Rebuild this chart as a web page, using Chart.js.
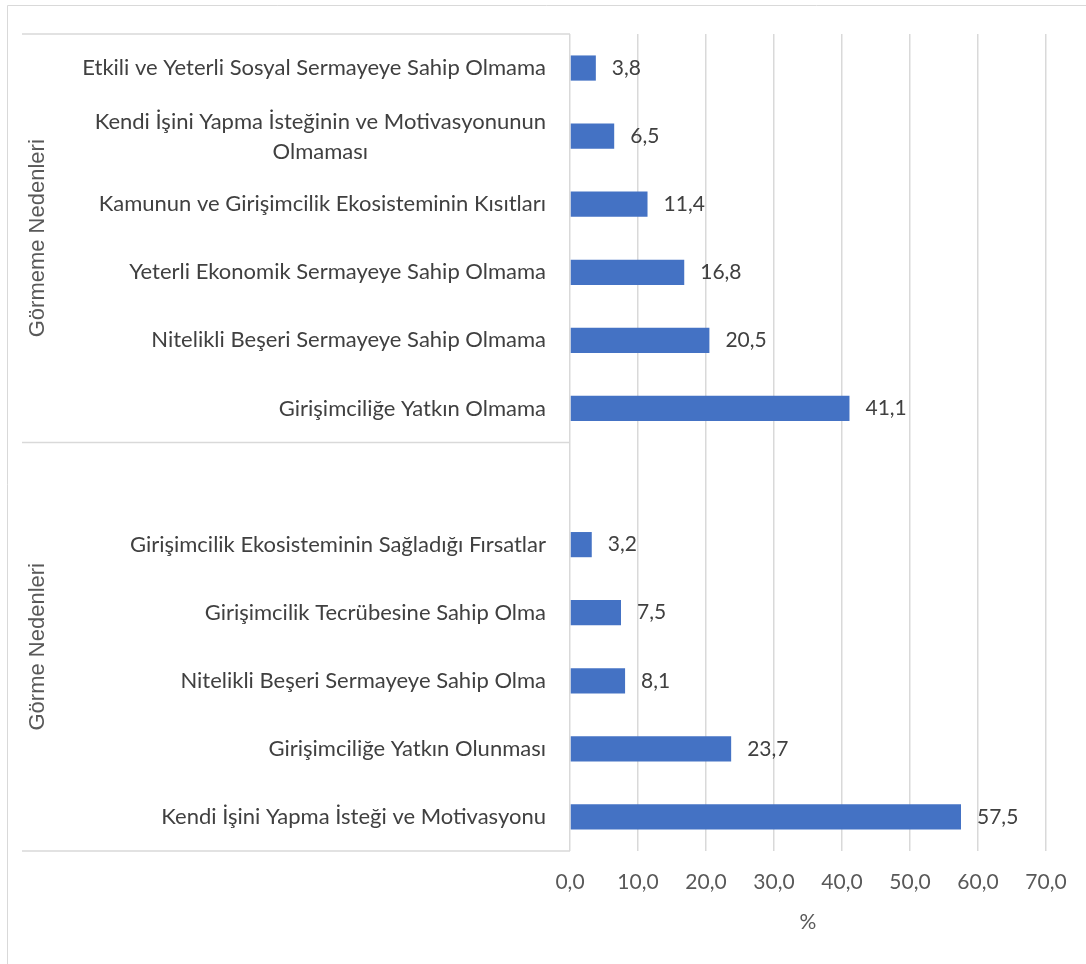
<!DOCTYPE html>
<html>
<head>
<meta charset="utf-8">
<script src="https://cdn.jsdelivr.net/npm/chart.js@4.4.1/dist/chart.umd.min.js"></script>
<style>
  html, body { margin: 0; padding: 0; background: #fff; }
  #wrap { width: 1086px; height: 964px; position: relative; }
</style>
</head>
<body>
<div id="wrap"><canvas id="chart"></canvas></div>
<script>
// data, top to bottom
var categories = [
  "Etkili ve Yeterli Sosyal Sermayeye Sahip Olmama",
  ["Kendi İşini Yapma İsteğinin ve Motivasyonunun", "Olmaması"],
  "Kamunun ve Girişimcilik Ekosisteminin Kısıtları",
  "Yeterli Ekonomik Sermayeye Sahip Olmama",
  "Nitelikli Beşeri Sermayeye Sahip Olmama",
  "Girişimciliğe Yatkın Olmama",
  "",
  "Girişimcilik Ekosisteminin Sağladığı Fırsatlar",
  "Girişimcilik Tecrübesine Sahip Olma",
  "Nitelikli Beşeri Sermayeye Sahip Olma",
  "Girişimciliğe Yatkın Olunması",
  "Kendi İşini Yapma İsteği ve Motivasyonu"
];
var values = [3.8, 6.5, 11.4, 16.8, 20.5, 41.1, null, 3.2, 7.5, 8.1, 23.7, 57.5];
var groups = ["Görmeme Nedenleri", "Görme Nedenleri"];
var groupSizes = [6, 6];
var xTicks = [0, 10, 20, 30, 40, 50, 60, 70];
var axisTitle = "%";

var LINE = "#d9d9d9";
var FONT = "Lato";

function fmt(v) {
  return v.toFixed(1).replace(".", ",");
}

// group boxes, rotated group names, category labels, value labels
var sidePlugin = {
  id: "side",
  beforeDraw: function (chart) {
    var ctx = chart.ctx;
    ctx.save();
    ctx.strokeStyle = LINE;
    ctx.lineWidth = 1;
    ctx.beginPath();
    ctx.moveTo(7.5, chart.height);
    ctx.lineTo(7.5, 5.5);
    ctx.lineTo(chart.width, 5.5);
    ctx.stroke();
    ctx.restore();
  },
  afterDraw: function (chart) {
    var ctx = chart.ctx;
    var xs = chart.scales.x;
    var ys = chart.scales.y;
    var area = chart.chartArea;
    ctx.save();

    // group separators
    var edges = [area.top];
    var idx = 0;
    groupSizes.forEach(function (n) {
      idx += n;
      if (idx >= categories.length) edges.push(area.bottom);
      else edges.push((ys.getPixelForValue(idx - 1) + ys.getPixelForValue(idx)) / 2);
    });
    ctx.strokeStyle = LINE;
    ctx.lineWidth = 1.5;
    edges.forEach(function (e) {
      ctx.beginPath();
      ctx.moveTo(22, e);
      ctx.lineTo(area.left, e);
      ctx.stroke();
    });

    // group names
    ctx.fillStyle = "#595959";
    ctx.font = '22px "Liberation Sans"';
    ctx.textAlign = "center";
    ctx.textBaseline = "middle";
    groups.forEach(function (g, i) {
      var mid = (edges[i] + edges[i + 1]) / 2;
      ctx.save();
      ctx.translate(38, mid);
      ctx.rotate(-Math.PI / 2);
      ctx.fillText(g, 0, 0);
      ctx.restore();
    });

    // category labels
    ctx.fillStyle = "#404040";
    ctx.font = "22px " + FONT;
    var rightX = area.left - 24;
    categories.forEach(function (c, i) {
      var cy = ys.getPixelForValue(i);
      if (Array.isArray(c)) {
        var w = 0;
        c.forEach(function (l) { w = Math.max(w, ctx.measureText(l).width); });
        ctx.textAlign = "center";
        c.forEach(function (l, k) {
          ctx.fillText(l, rightX - w / 2, cy + 1 + (k - (c.length - 1) / 2) * 30);
        });
      } else if (c) {
        ctx.textAlign = "right";
        ctx.fillText(c, rightX, cy);
      }
    });

    // value labels
    ctx.font = "21px " + FONT;
    ctx.textAlign = "left";
    values.forEach(function (v, i) {
      if (v === null) return;
      ctx.fillText(fmt(v), xs.getPixelForValue(v) + 16, ys.getPixelForValue(i));
    });
    ctx.restore();
  }
};

function draw() {
  new Chart(document.getElementById("chart"), {
    type: "bar",
    data: {
      labels: categories,
      datasets: [{
        data: values,
        backgroundColor: "#4472C4",
        borderWidth: 0,
        barPercentage: 0.37,
        categoryPercentage: 1
      }]
    },
    options: {
      indexAxis: "y",
      responsive: false,
      animation: false,
      layout: { padding: { top: 34, right: 40, left: 0, bottom: 0 } },
      plugins: { legend: { display: false }, tooltip: { enabled: false } },
      scales: {
        x: {
          min: 0,
          max: 70,
          afterBuildTicks: function (s) {
            s.ticks = xTicks.map(function (v) { return { value: v }; });
          },
          afterFit: function (s) { s.height = 113; },
          grid: { color: LINE, lineWidth: 1.5, drawTicks: false },
          border: { display: false },
          ticks: {
            color: "#595959",
            font: { family: FONT, size: 21 },
            padding: 19,
            maxRotation: 0,
            callback: function (v) { return fmt(v); }
          },
          title: {
            display: true,
            text: axisTitle,
            color: "#595959",
            font: { family: FONT, size: 21 },
            padding: { top: 0, bottom: 29 }
          }
        },
        y: {
          afterFit: function (s) { s.width = 570; },
          grid: { display: false },
          border: { display: false },
          ticks: { display: false }
        }
      }
    },
    plugins: [sidePlugin]
  });
}

var c = document.getElementById("chart");
c.width = 1086;
c.height = 964;
Promise.all([
  document.fonts.load("22px Lato"),
  document.fonts.load('22px "Liberation Sans"')
]).then(draw, draw);
</script>
</body>
</html>
